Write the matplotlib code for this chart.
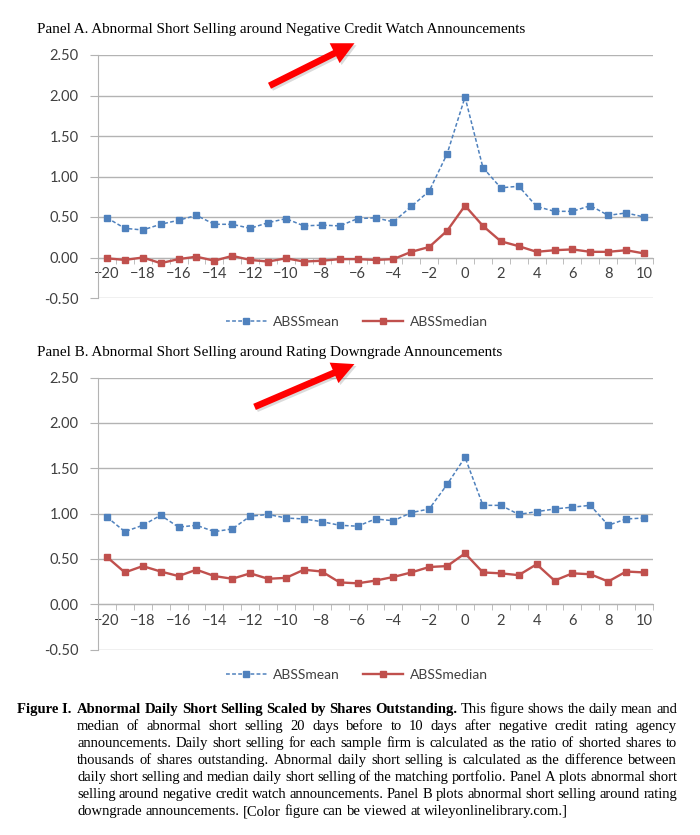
import matplotlib
matplotlib.use("Agg")
import matplotlib.pyplot as plt
from matplotlib.patches import FancyArrowPatch
from matplotlib.transforms import IdentityTransform
import numpy as np

# Données (jours autour de l'annonce)
days = list(range(-20, 11))

a_mean = [0.49, 0.36, 0.34, 0.41, 0.46, 0.52, 0.41, 0.41, 0.36, 0.43, 0.48,
          0.39, 0.40, 0.39, 0.48, 0.49, 0.44, 0.63, 0.82, 1.28, 1.98, 1.11,
          0.86, 0.88, 0.63, 0.57, 0.57, 0.64, 0.52, 0.55, 0.50]
a_median = [-0.01, -0.03, 0.00, -0.07, -0.02, 0.01, -0.04, 0.02, -0.03, -0.05, -0.01,
            -0.05, -0.04, -0.02, -0.02, -0.03, -0.02, 0.07, 0.13, 0.33, 0.64, 0.39,
            0.20, 0.14, 0.07, 0.09, 0.10, 0.07, 0.07, 0.09, 0.05]

b_mean = [0.96, 0.80, 0.87, 0.98, 0.85, 0.87, 0.80, 0.83, 0.97, 0.99, 0.95,
          0.94, 0.91, 0.87, 0.86, 0.94, 0.92, 1.01, 1.05, 1.32, 1.62, 1.09,
          1.09, 0.99, 1.02, 1.05, 1.07, 1.09, 0.87, 0.94, 0.95]
b_median = [0.52, 0.35, 0.42, 0.36, 0.31, 0.38, 0.31, 0.28, 0.34, 0.28, 0.29,
            0.38, 0.36, 0.24, 0.23, 0.26, 0.30, 0.35, 0.41, 0.42, 0.56, 0.35,
            0.34, 0.32, 0.44, 0.26, 0.34, 0.33, 0.25, 0.36, 0.35]

yticks = [-0.5, 0.0, 0.5, 1.0, 1.5, 2.0, 2.5]
xticks = list(range(-20, 11, 2))

titre_a = "Panel A. Abnormal Short Selling around Negative Credit Watch Announcements"
titre_b = "Panel B. Abnormal Short Selling around Rating Downgrade Announcements"

BLUE = "#4F81BD"
RED = "#C0504D"
GRID = "#B3B3B3"
TXT = "#404040"
W, H = 700, 835

fig = plt.figure(figsize=(7, 8.35), dpi=100)


def panneau(rect, mean, median, titre, y_titre, y_legende):
    ax = fig.add_axes(rect)
    ax.plot(days, mean, color=BLUE, ls=(0, (2.5, 1.5)), lw=1.1, marker="s",
            ms=3.8, label="ABSSmean", zorder=3)
    ax.plot(days, median, color=RED, ls="-", lw=1.7, marker="s",
            ms=3.8, label="ABSSmedian", zorder=3)
    ax.set_xlim(-20.5, 10.5)
    ax.set_ylim(-0.5, 2.5)
    ax.set_yticks(yticks)
    ax.set_yticklabels([f"{v:.2f}" for v in yticks])
    ax.set_xticks(xticks)
    ax.set_xticks(np.arange(-20.5, 11, 1), minor=True)
    ax.yaxis.grid(True, color=GRID, lw=1.0)
    ax.set_axisbelow(True)
    for s in ["top", "right"]:
        ax.spines[s].set_visible(False)
    ax.spines["left"].set_color(GRID)
    ax.spines["bottom"].set_color(GRID)
    ax.spines["bottom"].set_position(("data", 0))
    ax.tick_params(axis="x", which="major", length=0, pad=7, labelsize=10.5,
                   labelcolor=TXT)
    ax.tick_params(axis="x", which="minor", length=4, color=GRID, direction="out")
    ax.tick_params(axis="y", length=6, color=GRID, pad=8, labelsize=10.5,
                   labelcolor=TXT)
    for lab in ax.get_xticklabels() + ax.get_yticklabels():
        lab.set_family("Lato")
    fig.text(37 / W, 1 - y_titre / H, titre, family="Liberation Serif",
             fontsize=10.9, va="center", ha="left")
    h, l = ax.get_legend_handles_labels()
    fig.legend(h, l, loc="center", bbox_to_anchor=(0.51, 1 - y_legende / H),
               ncol=2, frameon=False, prop={"family": "Lato", "size": 10},
               handlelength=2.9, handletextpad=0.45, columnspacing=1.7,
               labelcolor=TXT)
    return ax


panneau([98 / W, 1 - 298 / H, 555 / W, 243 / H], a_mean, a_median, titre_a, 30, 322)
panneau([98 / W, 1 - 649.5 / H, 555 / W, 272 / H], b_mean, b_median, titre_b, 352, 675)

# Flèches rouges
for (x0, y0), (x1, y1) in [((267, 87), (357, 42)), ((252, 408), (357, 363))]:
    for dx, dy, col, z in [(2, -2, "#9A9A9A", 4), (0, 0, "#FF0000", 5)]:
        fl = FancyArrowPatch((x0 + dx, H - y0 + dy), (x1 + dx, H - y1 + dy),
                             arrowstyle="simple,head_length=1.0,head_width=1.0,tail_width=0.3",
                             mutation_scale=16, color=col, lw=0,
                             transform=IdentityTransform(), zorder=z,
                             alpha=0.35 if col != "#FF0000" else 1)
        fig.add_artist(fl)

# Légende de la figure (texte justifié)
renderer = fig.canvas.get_renderer()
CAP = 10.5
lignes = [
    "Abnormal Daily Short Selling Scaled by Shares Outstanding. This figure shows the daily mean and",
    "median of abnormal short selling 20 days before to 10 days after negative credit rating agency",
    "announcements. Daily short selling for each sample firm is calculated as the ratio of shorted shares to",
    "thousands of shares outstanding. Abnormal daily short selling is calculated as the difference between",
    "daily short selling and median daily short selling of the matching portfolio. Panel A plots abnormal short",
    "selling around negative credit watch announcements. Panel B plots abnormal short selling around rating",
    "downgrade announcements. [Color figure can be viewed at wileyonlinelibrary.com.]",
]
n_gras = 8  # mots en gras au début de la première ligne
bases = [713, 730, 747, 764, 781, 798, 815]

fig.text(17 / W, 1 - bases[0] / H, "Figure I.", family="Liberation Serif",
         fontsize=CAP, weight="bold", va="baseline")

x_debut, x_fin = 77, 677
for i, (ligne, yb) in enumerate(zip(lignes, bases)):
    mots = ligne.split(" ")
    textes = []
    for j, m in enumerate(mots):
        gras = "bold" if (i == 0 and j < n_gras) else "normal"
        textes.append(fig.text(0, 1 - yb / H, m, family="Liberation Serif",
                               fontsize=CAP, weight=gras, va="baseline"))
    larg = [t.get_window_extent(renderer).width for t in textes]
    if i < len(lignes) - 1:
        esp = (x_fin - x_debut - sum(larg)) / (len(mots) - 1)
    else:
        esp = CAP * 100 / 72 * 0.25
    x = x_debut
    for t, w in zip(textes, larg):
        t.set_x(x / W)
        x += w + esp

fig.savefig("out.png", dpi=100)
